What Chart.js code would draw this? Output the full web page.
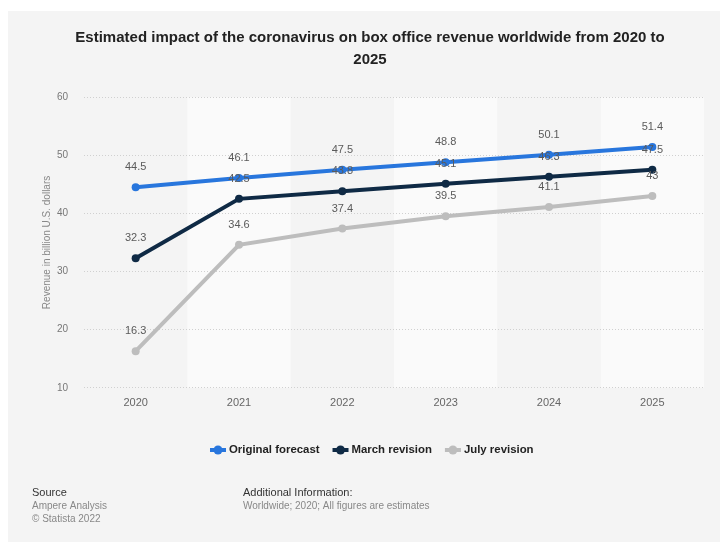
<!DOCTYPE html>
<html>
<head>
<meta charset="utf-8">
<script src="https://cdn.jsdelivr.net/npm/chart.js@4.4.1/dist/chart.umd.min.js"></script>
<style>
  html, body { margin: 0; padding: 0; background: #ffffff; }
  #wrap { position: absolute; left: 8px; top: 11px; width: 712px; height: 531px; background: #f4f4f4; }
  canvas { display: block; }
</style>
</head>
<body>
<div id="wrap"><canvas id="chart" width="712" height="531"></canvas></div>
<script>
const years = ['2020', '2021', '2022', '2023', '2024', '2025'];
const originalForecast = [44.5, 46.1, 47.5, 48.8, 50.1, 51.4];
const marchRevision = [32.3, 42.5, 43.8, 45.1, 46.3, 47.5];
const julyRevision = [16.3, 34.6, 37.4, 39.5, 41.1, 43];
const yTicks = [10, 20, 30, 40, 50, 60];

const FONT = "'Liberation Sans', Arial, sans-serif";

// lighter bands behind every second year
const bandsPlugin = {
  id: 'bands',
  beforeDraw(chart) {
    const { ctx, chartArea, scales } = chart;
    const x = scales.x;
    const step = x.getPixelForValue(1) - x.getPixelForValue(0);
    ctx.save();
    ctx.fillStyle = '#fafafa';
    years.forEach((y, i) => {
      if (i % 2 === 1) {
        const cx = x.getPixelForValue(i);
        ctx.fillRect(cx - step / 2, chartArea.top, step, chartArea.bottom - chartArea.top);
      }
    });
    ctx.restore();
  }
};

// values above each point
const labelsPlugin = {
  id: 'valueLabels',
  afterDatasetsDraw(chart) {
    const { ctx } = chart;
    ctx.save();
    ctx.font = '11px ' + FONT;
    ctx.fillStyle = '#5a5a5a';
    ctx.textAlign = 'center';
    ctx.textBaseline = 'middle';
    chart.data.datasets.forEach((ds, di) => {
      chart.getDatasetMeta(di).data.forEach((pt, i) => {
        ctx.fillText(String(ds.data[i]), pt.x, pt.y - 20);
      });
    });
    ctx.restore();
  }
};

// legend and footer
const extrasPlugin = {
  id: 'extras',
  afterDraw(chart) {
    const { ctx } = chart;
    ctx.save();
    ctx.font = 'bold 11.4px ' + FONT;
    ctx.textBaseline = 'middle';
    const ly = 439;
    let x = 202;
    chart.data.datasets.forEach(ds => {
      ctx.strokeStyle = ds.borderColor;
      ctx.fillStyle = ds.borderColor;
      ctx.lineWidth = 4;
      ctx.beginPath();
      ctx.moveTo(x, ly);
      ctx.lineTo(x + 16, ly);
      ctx.stroke();
      ctx.beginPath();
      ctx.arc(x + 8, ly, 4.5, 0, Math.PI * 2);
      ctx.fill();
      ctx.fillStyle = '#222222';
      ctx.textAlign = 'left';
      ctx.fillText(ds.label, x + 19, ly);
      x += 19 + ctx.measureText(ds.label).width + 13;
    });

    ctx.font = '11px ' + FONT;
    ctx.fillStyle = '#333333';
    ctx.fillText('Source', 24, 482);
    ctx.fillText('Additional Information:', 235, 482);
    ctx.font = '10px ' + FONT;
    ctx.fillStyle = '#888888';
    ctx.fillText('Ampere Analysis', 24, 495);
    ctx.fillText('\u00a9 Statista 2022', 24, 508);
    ctx.fillText('Worldwide; 2020; All figures are estimates', 235, 495);
    ctx.restore();
  }
};

function series(label, data, color) {
  return {
    label: label,
    data: data,
    borderColor: color,
    backgroundColor: color,
    borderWidth: 4,
    pointRadius: 4,
    pointHoverRadius: 4,
    pointBorderWidth: 0,
    tension: 0
  };
}

new Chart(document.getElementById('chart'), {
  type: 'line',
  data: {
    labels: years,
    datasets: [
      series('Original forecast', originalForecast, '#2876dd'),
      series('March revision', marchRevision, '#0f2a45'),
      series('July revision', julyRevision, '#bdbdbd')
    ]
  },
  plugins: [bandsPlugin, labelsPlugin, extrasPlugin],
  options: {
    responsive: false,
    animation: false,
    events: [],
    layout: { padding: { left: 28, right: 16, top: 0, bottom: 131 } },
    plugins: {
      legend: { display: false },
      tooltip: { enabled: false },
      title: {
        display: true,
        text: ['Estimated impact of the coronavirus on box office revenue worldwide from 2020 to', '2025'],
        color: '#222222',
        font: { family: FONT, size: 15, weight: 'bold', lineHeight: 1.47 },
        padding: { top: 16, bottom: 26 }
      }
    },
    scales: {
      x: {
        offset: true,
        grid: { display: false },
        border: { display: false },
        ticks: { color: '#666666', font: { family: FONT, size: 11 }, padding: 1 }
      },
      y: {
        min: 10,
        max: 60,
        afterFit(scale) { scale.width = 48; },
        afterBuildTicks(scale) { scale.ticks = yTicks.map(v => ({ value: v })); },
        grid: { color: '#d0d0d0', lineWidth: 1, drawTicks: false },
        border: { display: false, dash: [1, 2] },
        ticks: { color: '#777777', font: { family: FONT, size: 10 }, padding: 16 },
        title: {
          display: true,
          text: 'Revenue in billion U.S. dollars',
          color: '#888888',
          font: { family: FONT, size: 10 },
          padding: { top: 5, bottom: 0 }
        }
      }
    }
  }
});
</script>
</body>
</html>
